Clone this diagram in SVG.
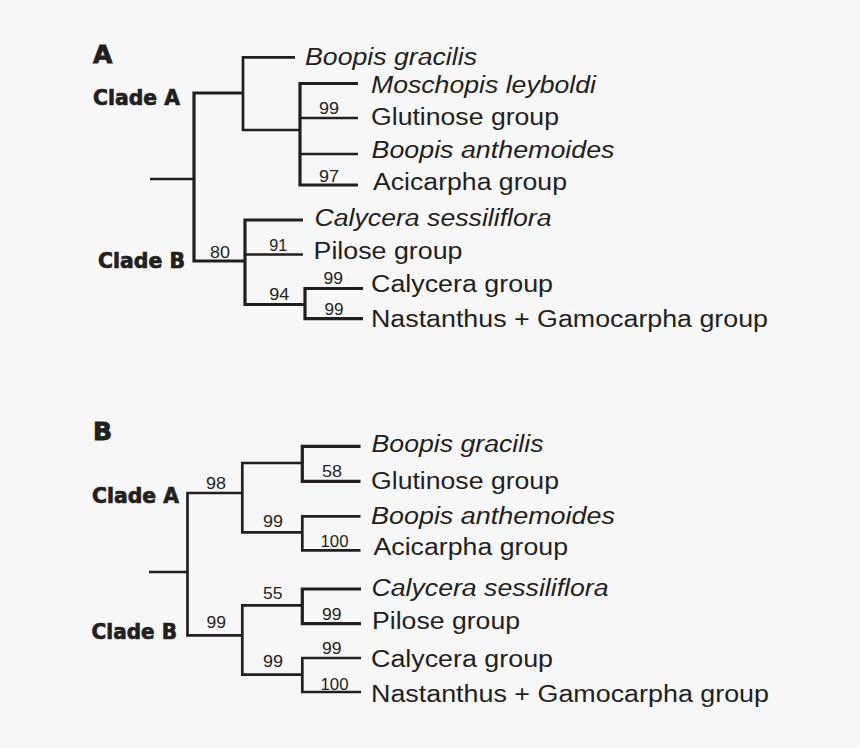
<svg xmlns="http://www.w3.org/2000/svg" width="860" height="748" viewBox="0 0 860 748">
<style>
.bg{fill:#f7f7f7}
.ln{fill:none;stroke:#231f20;stroke-width:2.7;stroke-linejoin:miter;stroke-linecap:butt}
.tk{stroke-width:3.2}
.tx{font-family:"Liberation Sans",Arial,sans-serif;font-size:23px;fill:#231f20}
.it{font-style:italic}
.num{font-family:"Liberation Sans",Arial,sans-serif;font-size:16.5px;fill:#231f20}
.cl{font-family:"DejaVu Sans",sans-serif;font-weight:bold;font-size:20.5px;fill:#231f20;stroke:#231f20;stroke-width:0.7}
.pn{font-family:"DejaVu Sans",sans-serif;font-weight:bold;font-size:25px;fill:#231f20;stroke:#231f20;stroke-width:0.9}
</style>
<rect class="bg" x="0" y="0" width="860" height="748"/>

<g id="connectors">
<!-- Panel A -->
<path class="ln" d="M150 179 H194"/>
<path class="ln tk" d="M243 93 H194 V261 H245"/>
<path class="ln" d="M295 57.3 H243 V130 H300"/>
<path class="ln tk" d="M358 83.5 H300 V185 H358"/>
<path class="ln" d="M300 118 H358 M300 154 H358"/>
<path class="ln tk" d="M303 220 H245 V304.5 H305"/>
<path class="ln" d="M245 254.5 H303"/>
<path class="ln tk" d="M363 288.5 H305 V318.7 H363"/>
<!-- Panel B -->
<path class="ln" d="M149 572 H187.5"/>
<path class="ln" d="M242.3 493 H187.5 V635.3 H242.3"/>
<path class="ln" d="M302.3 463 H242.3 V532.3 H302.3"/>
<path class="ln tk" d="M360.5 446.3 H302.3 V481.3 H360.5"/>
<path class="ln" d="M360.5 516.3 H302.3 V550.3 H360.5"/>
<path class="ln" d="M302.3 605.3 H242.3 V674.7 H302.3"/>
<path class="ln tk" d="M361 589 H302.3 V623.7 H361"/>
<path class="ln" d="M361 658 H302.3 V692 H361"/>
</g>

<!-- Panel A -->
<g id="panelA-label"><text class="pn" x="93" y="63">A</text></g>
<g id="A-cladeA"><text class="cl" x="93" y="105" textLength="87" lengthAdjust="spacingAndGlyphs">Clade A</text></g>
<g id="A-cladeB"><text class="cl" x="98" y="268" textLength="87" lengthAdjust="spacingAndGlyphs">Clade B</text></g>

<g id="A-boopis-gracilis"><text class="tx it" x="305" y="64.5" textLength="172" lengthAdjust="spacingAndGlyphs">Boopis gracilis</text></g>
<g id="A-moschopis"><text class="tx it" x="371" y="93.3" textLength="225" lengthAdjust="spacingAndGlyphs">Moschopis leyboldi</text></g>
<g id="A-glutinose"><text class="tx" x="371" y="125" textLength="188" lengthAdjust="spacingAndGlyphs">Glutinose group</text></g>
<g id="A-boopis-anth"><text class="tx it" x="371.5" y="158.3" textLength="243" lengthAdjust="spacingAndGlyphs">Boopis anthemoides</text></g>
<g id="A-acicarpha"><text class="tx" x="373" y="190" textLength="194" lengthAdjust="spacingAndGlyphs">Acicarpha group</text></g>
<g id="A-calycera-sess"><text class="tx it" x="314.5" y="225.7" textLength="237" lengthAdjust="spacingAndGlyphs">Calycera sessiliflora</text></g>
<g id="A-pilose"><text class="tx" x="313.5" y="259" textLength="149" lengthAdjust="spacingAndGlyphs">Pilose group</text></g>
<g id="A-calycera-grp"><text class="tx" x="371" y="291.7" textLength="182" lengthAdjust="spacingAndGlyphs">Calycera group</text></g>
<g id="A-nastanthus"><text class="tx" x="371" y="326.7" textLength="397" lengthAdjust="spacingAndGlyphs">Nastanthus + Gamocarpha group</text></g>

<g id="A-support">
<text class="num" x="319" y="114" textLength="20" lengthAdjust="spacingAndGlyphs">99</text>
<text class="num" x="319" y="182" textLength="20" lengthAdjust="spacingAndGlyphs">97</text>
<text class="num" x="210" y="258" textLength="20" lengthAdjust="spacingAndGlyphs">80</text>
<text class="num" x="269.3" y="251" textLength="18" lengthAdjust="spacingAndGlyphs">91</text>
<text class="num" x="269.3" y="300" textLength="20" lengthAdjust="spacingAndGlyphs">94</text>
<text class="num" x="323.5" y="284" textLength="19.5" lengthAdjust="spacingAndGlyphs">99</text>
<text class="num" x="324.5" y="314.5" textLength="19" lengthAdjust="spacingAndGlyphs">99</text>
</g>

<!-- Panel B -->
<g id="panelB-label"><text class="pn" x="93" y="440">B</text></g>
<g id="B-cladeA"><text class="cl" x="92" y="503" textLength="87" lengthAdjust="spacingAndGlyphs">Clade A</text></g>
<g id="B-cladeB"><text class="cl" x="91.5" y="639" textLength="85.5" lengthAdjust="spacingAndGlyphs">Clade B</text></g>

<g id="B-boopis-gracilis"><text class="tx it" x="371.5" y="452.3" textLength="172" lengthAdjust="spacingAndGlyphs">Boopis gracilis</text></g>
<g id="B-glutinose"><text class="tx" x="371" y="489" textLength="188" lengthAdjust="spacingAndGlyphs">Glutinose group</text></g>
<g id="B-boopis-anth"><text class="tx it" x="371" y="524" textLength="244" lengthAdjust="spacingAndGlyphs">Boopis anthemoides</text></g>
<g id="B-acicarpha"><text class="tx" x="373.5" y="555" textLength="194.5" lengthAdjust="spacingAndGlyphs">Acicarpha group</text></g>
<g id="B-calycera-sess"><text class="tx it" x="371.5" y="595.7" textLength="237" lengthAdjust="spacingAndGlyphs">Calycera sessiliflora</text></g>
<g id="B-pilose"><text class="tx" x="372" y="629" textLength="148" lengthAdjust="spacingAndGlyphs">Pilose group</text></g>
<g id="B-calycera-grp"><text class="tx" x="371" y="666.7" textLength="182" lengthAdjust="spacingAndGlyphs">Calycera group</text></g>
<g id="B-nastanthus"><text class="tx" x="371" y="701.7" textLength="398" lengthAdjust="spacingAndGlyphs">Nastanthus + Gamocarpha group</text></g>

<g id="B-support">
<text class="num" x="206" y="489" textLength="20" lengthAdjust="spacingAndGlyphs">98</text>
<text class="num" x="322" y="476.7" textLength="20" lengthAdjust="spacingAndGlyphs">58</text>
<text class="num" x="263" y="526.7" textLength="20" lengthAdjust="spacingAndGlyphs">99</text>
<text class="num" x="320.5" y="546.7" textLength="28" lengthAdjust="spacingAndGlyphs">100</text>
<text class="num" x="263" y="599" textLength="19.5" lengthAdjust="spacingAndGlyphs">55</text>
<text class="num" x="206.5" y="628.3" textLength="19.5" lengthAdjust="spacingAndGlyphs">99</text>
<text class="num" x="322" y="620.3" textLength="19.5" lengthAdjust="spacingAndGlyphs">99</text>
<text class="num" x="263" y="667.3" textLength="20" lengthAdjust="spacingAndGlyphs">99</text>
<text class="num" x="322" y="654" textLength="19.5" lengthAdjust="spacingAndGlyphs">99</text>
<text class="num" x="320.5" y="689.5" textLength="28" lengthAdjust="spacingAndGlyphs">100</text>
</g>
</svg>
